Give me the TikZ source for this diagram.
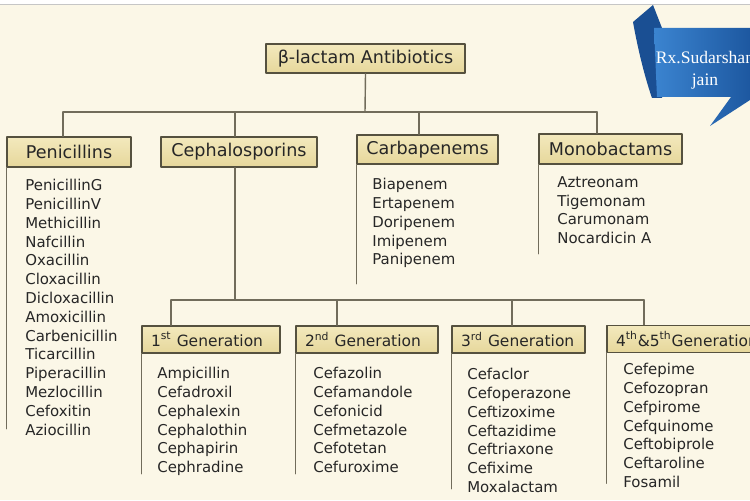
\documentclass[tikz,border=0pt]{standalone}
\usepackage{fontspec}
\setmainfont{DejaVu Sans}
\newfontfamily\ribbonfont{Liberation Serif}
\usetikzlibrary{calc}
\definecolor{pagebg}{HTML}{FBF7E7}
\definecolor{boxtop}{HTML}{F3E9BD}
\definecolor{boxbot}{HTML}{E6D79B}
\definecolor{boxline}{HTML}{55513F}
\definecolor{wire}{HTML}{716C5B}
\definecolor{inktext}{HTML}{262626}
\definecolor{ribbonA}{HTML}{3B84D0}
\definecolor{ribbonB}{HTML}{1D58A0}
\definecolor{ribbonfold}{HTML}{1A4F93}

\begin{document}
\begin{tikzpicture}[
  x=0.02cm, y=-0.02cm, line cap=round, line join=round,
  conn/.style={wire, line width=0.8pt},
  headbox/.style={draw=boxline, line width=0.9pt, top color=boxtop, bottom color=boxbot,
                  inner sep=0pt, text=inktext, font=\fontsize{10}{12}\selectfont},
  genbox/.style={headbox, font=\fontsize{8.8}{10}\selectfont, align=left,
                 inner xsep=0.18cm, minimum height=0.54cm},
  druglist/.style={anchor=north west, inner sep=0pt, align=left, text=inktext,
                   font=\fontsize{8.5}{10.7}\selectfont},
]

\path[use as bounding box] (0,0) rectangle (750,500);
\clip (0,0) rectangle (750,500);
\fill[pagebg] (0,0) rectangle (750,500);
\fill[white] (0,0) rectangle (750,4);
\draw[gray!45, line width=0.4pt] (0,4.5) -- (750,4.5);

% Ribbon
\fill[ribbonfold] (653,5) -- (633,22) .. controls (638,50) and (645,78) .. (652,98)
  -- (662,98) -- (662,28) -- cycle;
\shade[left color=ribbonA, right color=ribbonB]
  (654,28) -- (750,28) -- (750,100) -- (710,126) -- (731,97) -- (657,97)
  .. controls (656,75) and (655,50) .. (654,28) -- cycle;
\node[text=white, align=center, font=\ribbonfont\fontsize{10}{12.5}\selectfont]
  (sign) at (705,70) {Rx.Sudarshan\\jain};

% Top level
\node[headbox, minimum width=3.98cm, minimum height=0.58cm] (title) at (365.5,58.5)
  {β-lactam Antibiotics};
\coordinate (bus) at (365,112);

\node[headbox, minimum width=2.48cm, minimum height=0.6cm] (pen)  at (69,152)    {Penicillins};
\node[headbox, minimum width=3.12cm, minimum height=0.6cm] (ceph) at (239,152)   {Cephalosporins};
\node[headbox, minimum width=2.82cm, minimum height=0.58cm] (carb) at (427.5,149.5) {Carbapenems};
\node[headbox, minimum width=2.86cm, minimum height=0.6cm] (mono) at (610.5,149) {Monobactams};

\draw[conn] (title.south) -- (bus);
\draw[conn] (63,0 |- bus) -- (597,0 |- bus);
\foreach \bx/\bn in {63/pen, 235/ceph, 419/carb, 597/mono}
  \draw[conn] (\bx,0 |- bus) -- (\bx,0 |- \bn.north);

% Lists of the first row
\node[druglist] (penlist) at (25,179) {PenicillinG\\PenicillinV\\Methicillin\\Nafcillin\\Oxacillin\\
  Cloxacillin\\Dicloxacillin\\Amoxicillin\\Carbenicillin\\Ticarcillin\\Piperacillin\\Mezlocillin\\
  Cefoxitin\\Aziocillin};
\node[druglist] (carblist) at (372,178) {Biapenem\\Ertapenem\\Doripenem\\Imipenem\\Panipenem};
\node[druglist] (monolist) at (557,176) {Aztreonam\\Tigemonam\\Carumonam\\Nocardicin A};

\draw[conn] (pen.south west)  -- ++(0,261);
\draw[conn] (carb.south west) -- ++(0,119);
\draw[conn] (mono.south west) -- ++(0,89);

% Generations
\node[genbox, text width=2.4cm]  (gen1) at (211,339.5)   {1\textsuperscript{st} Generation};
\node[genbox, text width=2.48cm] (gen2) at (367,339.5)   {2\textsuperscript{nd} Generation};
\node[genbox, text width=2.3cm]  (gen3) at (518.5,339.5) {3\textsuperscript{rd} Generation};
\node[genbox, text width=2.9cm]  (gen4) at (688.5,339)   {4\textsuperscript{th}\&5\textsuperscript{th}Generation};
\coordinate (gbus) at (235,300);

\draw[conn] (235,0 |- ceph.south) -- (gbus);
\draw[conn] (171,0 |- gbus) -- (644,0 |- gbus);
\foreach \gx/\gn in {171/gen1, 337/gen2, 512/gen3, 644/gen4}
  \draw[conn] (\gx,0 |- gbus) -- (\gx,0 |- \gn.north);

\node[druglist] (gen1list) at (157,367) {Ampicillin\\Cefadroxil\\Cephalexin\\Cephalothin\\Cephapirin\\Cephradine};
\node[druglist] (gen2list) at (313,367) {Cefazolin\\Cefamandole\\Cefonicid\\Cefmetazole\\Cefotetan\\Cefuroxime};
\node[druglist] (gen3list) at (467,368) {Cefaclor\\Cefoperazone\\Ceftizoxime\\Ceftazidime\\Ceftriaxone\\
  Cefixime\\Moxalactam};
\node[druglist] (gen4list) at (623,363) {Cefepime\\Cefozopran\\Cefpirome\\Cefquinome\\Ceftobiprole\\
  Ceftaroline\\Fosamil};

\draw[conn] (gen1.south west) -- ++(0,120);
\draw[conn] (gen2.south west) -- ++(0,120);
\draw[conn] (gen3.south west) -- ++(0,135);
\draw[conn] (gen4.south west) -- ++(0,130);

\end{tikzpicture}
\end{document}
